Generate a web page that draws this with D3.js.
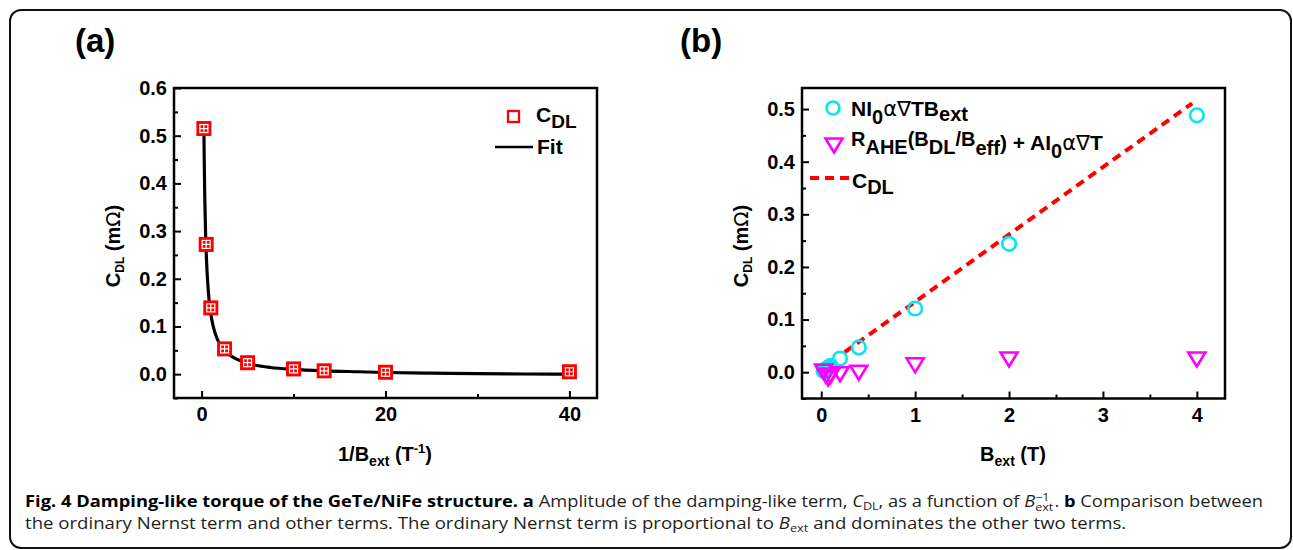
<!DOCTYPE html>
<html><head><meta charset="utf-8">
<script src="https://cdn.jsdelivr.net/npm/d3@7"></script>
<style>
body{margin:0;background:#fff;}
svg{display:block;}
</style></head><body>
<svg id="c" width="1293" height="550"></svg>
<script>
// ---------- data: panel (a) ----------
const invB   = [0.25, 0.5, 1, 2.5, 5, 10, 13.33, 20, 40];
const cdlA   = [0.515, 0.272, 0.139, 0.053, 0.024, 0.011, 0.007, 0.004, 0.005];
const fitX   = [0.25, 0.3, 0.35, 0.44, 0.5, 0.61, 0.75, 0.9, 1.1, 1.45, 2, 2.6, 3.45, 4.5, 5.6, 7.5, 10, 13.3, 17, 20, 25, 30, 35, 40];
const fitY   = [0.515, 0.43, 0.368, 0.292, 0.257, 0.21, 0.17, 0.141, 0.115, 0.087, 0.062, 0.047, 0.035, 0.026, 0.02, 0.014, 0.01, 0.007, 0.005, 0.0035, 0.002, 0.001, 0.0003, 0.0];
const aXMajor = [0, 20, 40];
const aXMinor = [10, 30];
const aYMajor = [0, 0.1, 0.2, 0.3, 0.4, 0.5, 0.6];
const aYMinor = [-0.05, 0.05, 0.15, 0.25, 0.35, 0.45, 0.55];

// ---------- data: panel (b) ----------
const bExt    = [0.025, 0.05, 0.075, 0.1, 0.2, 0.4, 1, 2, 4];
const nernst  = [0.002, 0.006, 0.009, 0.012, 0.026, 0.047, 0.121, 0.244, 0.488];
const others  = [0.002, -0.006, -0.011, -0.006, -0.003, 0.0, 0.014, 0.025, 0.025];
const cdlLineX = [0.25, 3.95];
const cdlLineY = [0.038, 0.511];
const bXMajor = [0, 1, 2, 3, 4];
const bXMinor = [0.5, 1.5, 2.5, 3.5];
const bYMajor = [0, 0.1, 0.2, 0.3, 0.4, 0.5];
const bYMinor = [-0.05, 0.05, 0.15, 0.25, 0.35, 0.45];

const svg = d3.select('#c');
const F = "'Liberation Sans', Arial, Helvetica, sans-serif";
const SYM = "'DejaVu Sans', 'Liberation Serif', serif";

// outer border
svg.append('rect').attr('x', 10).attr('y', 10).attr('width', 1281).attr('height', 538)
  .attr('rx', 11).attr('fill', '#fff').attr('stroke', '#111').attr('stroke-width', 2);

// rich text helper (relative dy so anchors work)
function rich(parent, x, y, parts, opts) {
  const t = parent.append('text').attr('x', x).attr('y', y)
    .attr('font-family', opts.family || F)
    .attr('font-weight', opts.weight || 'bold')
    .attr('font-size', opts.size)
    .attr('fill', opts.fill || '#000')
    .attr('text-anchor', opts.anchor || 'start');
  let prev = 0;
  parts.forEach(p => {
    const off = p.off || 0;
    const s = t.append('tspan').attr('dy', off - prev).text(p.t);
    prev = off;
    if (p.size) s.attr('font-size', p.size);
    if (p.family) s.attr('font-family', p.family);
    if (p.weight) s.attr('font-weight', p.weight);
    if (p.style) s.attr('font-style', p.style);
    if (p.fill) s.attr('fill', p.fill);
    if (p.dx) s.attr('dx', p.dx);
  });
  return t;
}

function frameAndAxes(x, y, xMaj, xMin, yMaj, yMin, xFmt, yFmt) {
  const g = svg.append('g');
  const [x0, x1] = x.range();
  const [y0, y1] = y.range();
  g.append('g').attr('transform', `translate(0,${y0})`)
    .call(d3.axisBottom(x).tickValues(xMaj).tickSize(-7).tickPadding(9).tickFormat(xFmt));
  g.append('g').attr('transform', `translate(0,${y0})`)
    .call(d3.axisBottom(x).tickValues(xMin).tickSize(-4).tickFormat(''));
  g.append('g').attr('transform', `translate(${x0},0)`)
    .call(d3.axisLeft(y).tickValues(yMaj).tickSize(-7).tickPadding(7).tickFormat(yFmt));
  g.append('g').attr('transform', `translate(${x0},0)`)
    .call(d3.axisLeft(y).tickValues(yMin).tickSize(-4).tickFormat(''));
  g.selectAll('.domain').remove();
  g.selectAll('.tick line').attr('stroke', '#000').attr('stroke-width', 2);
  g.selectAll('.tick text').attr('font-family', F).attr('font-weight', 'bold')
    .attr('font-size', 20).attr('fill', '#000');
  g.append('rect').attr('x', x0).attr('y', y1).attr('width', x1 - x0).attr('height', y0 - y1)
    .attr('fill', 'none').attr('stroke', '#000').attr('stroke-width', 2.5);
  return g;
}

// ================= Panel (a) =================
const xa = d3.scaleLinear().domain([-3, 43]).range([174, 597]);
const ya = d3.scaleLinear().domain([-0.05, 0.6]).range([398, 88]);
frameAndAxes(xa, ya, aXMajor, aXMinor, aYMajor, aYMinor, d3.format('d'), d3.format('.1f'));

const fitLine = d3.line().x(d => xa(d[0])).y(d => ya(d[1])).curve(d3.curveMonotoneX);
svg.append('path').datum(fitX.map((v, i) => [v, fitY[i]]))
  .attr('d', fitLine).attr('fill', 'none').attr('stroke', '#000').attr('stroke-width', 3.2);

const sq = svg.append('g').selectAll('g').data(invB.map((v, i) => [v, cdlA[i]])).join('g')
  .attr('transform', d => `translate(${xa(d[0])},${ya(d[1])})`);
sq.append('rect').attr('x', -7.5).attr('y', -7.5).attr('width', 15).attr('height', 15).attr('fill', '#ff0000');
sq.append('rect').attr('x', -4).attr('y', -4).attr('width', 8).attr('height', 8)
  .attr('fill', 'none').attr('stroke', '#fff').attr('stroke-width', 1.2);
sq.append('path').attr('d', 'M-4,0H4M0,-4V4').attr('stroke', '#fff').attr('stroke-width', 1.2);

// legend (a)
svg.append('rect').attr('x', 508).attr('y', 111).attr('width', 11).attr('height', 11)
  .attr('fill', '#fff').attr('stroke', '#ff0000').attr('stroke-width', 2.3);
rich(svg, 536, 122, [{t: 'C'}, {t: 'DL', size: 19, off: 6}], {size: 21});
svg.append('line').attr('x1', 495).attr('x2', 533).attr('y1', 147).attr('y2', 147)
  .attr('stroke', '#000').attr('stroke-width', 2.5);
rich(svg, 537, 154, [{t: 'Fit'}], {size: 21});

// axis titles (a)
rich(svg, 385, 461, [{t: '1/B'}, {t: 'ext', size: 14, off: 5}, {t: ' (T', off: 0}, {t: '-1', size: 13, off: -8}, {t: ')', off: 0}], {size: 20, anchor: 'middle'});
const ga = svg.append('g').attr('transform', 'translate(120,246) rotate(-90)');
rich(ga, 0, 0, [{t: 'C'}, {t: 'DL', size: 12, off: 4}, {t: ' (m', off: 0}, {t: 'Ω', weight: 'normal', family: SYM}, {t: ')'}], {size: 20, anchor: 'middle'});

// panel label
rich(svg, 75, 52, [{t: '(a)'}], {size: 33});

// ================= Panel (b) =================
const xb = d3.scaleLinear().domain([-0.205, 4.3]).range([802, 1225]);
const yb = d3.scaleLinear().domain([-0.05, 0.54]).range([398.5, 88]);
frameAndAxes(xb, yb, bXMajor, bXMinor, bYMajor, bYMinor, d3.format('d'), d3.format('.1f'));

svg.append('path').datum(cdlLineX.map((v, i) => [v, cdlLineY[i]]))
  .attr('d', d3.line().x(d => xb(d[0])).y(d => yb(d[1])))
  .attr('fill', 'none').attr('stroke', '#ff0000').attr('stroke-width', 4).attr('stroke-dasharray', '9,6');

svg.append('g').selectAll('circle').data(bExt.map((v, i) => [v, nernst[i]])).join('circle')
  .attr('cx', d => xb(d[0])).attr('cy', d => yb(d[1])).attr('r', 6.8)
  .attr('fill', 'none').attr('stroke', '#00e8f0').attr('stroke-width', 2.6);

const tri = 'M-8.5,-6.5L8.5,-6.5L0,7.5Z';
svg.append('g').selectAll('path').data(bExt.map((v, i) => [v, others[i]])).join('path')
  .attr('transform', d => `translate(${xb(d[0])},${yb(d[1])})`).attr('d', tri)
  .attr('fill', 'none').attr('stroke', '#ff00ff').attr('stroke-width', 2.6).attr('stroke-linejoin', 'miter');

// legend (b)
svg.append('circle').attr('cx', 833).attr('cy', 108).attr('r', 6.5)
  .attr('fill', 'none').attr('stroke', '#00e8f0').attr('stroke-width', 2.6);
rich(svg, 851, 116, [{t: 'NI'}, {t: '0', off: 8, size: 20}, {t: 'α', off: 0, weight: 'normal', family: SYM}, {t: '∇', weight: 'normal', family: SYM}, {t: 'TB'}, {t: 'ext', off: 5, size: 20}], {size: 21});
svg.append('path').attr('transform', 'translate(834,145)').attr('d', 'M-8.5,-6.5L8.5,-6.5L0,7.5Z')
  .attr('fill', 'none').attr('stroke', '#ff00ff').attr('stroke-width', 2.6);
rich(svg, 851, 150, [{t: 'R', off: -4, size: 20}, {t: 'AHE', off: 4, size: 20}, {t: '(B', off: -4, size: 20}, {t: 'DL', off: 4, size: 20}, {t: '/B', off: -4, size: 20}, {t: 'eff', off: 5, size: 20}, {t: ') + AI', off: 0}, {t: '0', off: 8, size: 20}, {t: 'α', off: 0, weight: 'normal', family: SYM}, {t: '∇', weight: 'normal', family: SYM}, {t: 'T'}], {size: 21});
svg.append('line').attr('x1', 810).attr('x2', 851).attr('y1', 178).attr('y2', 178)
  .attr('stroke', '#ff0000').attr('stroke-width', 4).attr('stroke-dasharray', '9,6');
rich(svg, 852, 188, [{t: 'C'}, {t: 'DL', size: 20, off: 6}], {size: 21});

// axis titles (b)
rich(svg, 1013, 461, [{t: 'B'}, {t: 'ext', size: 14, off: 5}, {t: ' (T)', off: 0}], {size: 20, anchor: 'middle'});
const gb = svg.append('g').attr('transform', 'translate(748,246) rotate(-90)');
rich(gb, 0, 0, [{t: 'C'}, {t: 'DL', size: 12, off: 4}, {t: ' (m', off: 0}, {t: 'Ω', weight: 'normal', family: SYM}, {t: ')'}], {size: 20, anchor: 'middle'});

rich(svg, 680, 52, [{t: '(b)'}], {size: 33});

// ================= Caption =================
const CF = "'Open Sans', 'Noto Sans', sans-serif";
function captionLine(x, y, targetW, parts) {
  const g = svg.append('g');
  const t = g.append('text').attr('x', 0).attr('y', 0).attr('font-family', CF)
    .attr('font-size', 16).attr('fill', '#231f20');
  let prev = 0;
  const spans = [];
  parts.forEach(p => {
    const off = p.off || 0;
    const s = t.append('tspan').attr('dy', off - prev).text(p.t);
    prev = off;
    if (p.b) s.attr('font-weight', 'bold').attr('fill', '#000');
    if (p.i) s.attr('font-style', 'italic');
    if (p.size) s.attr('font-size', p.size);
    spans.push([p, s]);
  });
  // stack superscripts over the preceding subscript
  spans.forEach(([p, s], k) => {
    if (p.stack) {
      const subW = spans[k - 1][1].node().getComputedTextLength();
      const supW = s.node().getComputedTextLength();
      s.attr('dx', -subW);
      const nxt = spans[k + 1];
      if (nxt) nxt[1].attr('dx', Math.max(0, subW - supW) + 1);
    }
  });
  const w = t.node().getComputedTextLength();
  g.attr('transform', `translate(${x},${y}) scale(${targetW / w},1)`);
}
captionLine(25, 507, 1252, [
  {t: 'Fig. 4 Damping-like torque of the GeTe/NiFe structure.', b: 1},
  {t: ' '}, {t: 'a', b: 1},
  {t: ' Amplitude of the damping-like term, '},
  {t: 'C', i: 1}, {t: 'DL', size: 11, off: 3}, {t: ', as a function of ', off: 0},
  {t: 'B', i: 1}, {t: 'ext', size: 11, off: 4}, {t: '−1', size: 11, off: -6, stack: 1},
  {t: '. ', off: 0}, {t: 'b', b: 1}, {t: ' Comparison between'}
]);
captionLine(25, 529, 1102, [
  {t: 'the ordinary Nernst term and other terms. The ordinary Nernst term is proportional to '},
  {t: 'B', i: 1}, {t: 'ext', size: 11, off: 3},
  {t: ' and dominates the other two terms.', off: 0}
]);
</script>
</body></html>
